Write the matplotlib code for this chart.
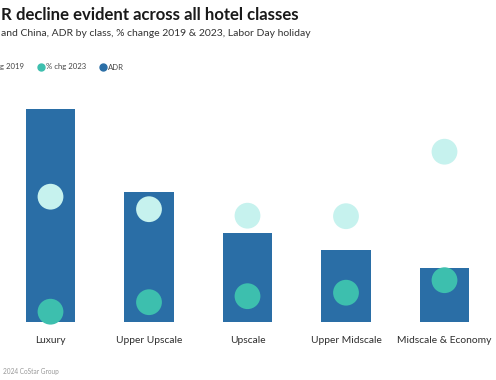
import matplotlib
matplotlib.use("Agg")
import matplotlib.pyplot as plt
from matplotlib.lines import Line2D

plt.rcParams['font.family'] = ['Lato', 'DejaVu Sans']

categories = ["Luxury", "Upper Upscale", "Upscale", "Upper Midscale", "Midscale & Economy"]
adr = [1065, 647, 442, 357, 268]
chg_2019 = [-5.0, -7.5, -8.8, -8.9, 4.0]
chg_2023 = [-28.0, -26.1, -24.9, -24.2, -21.7]

BAR = "#2a6ea6"
LIGHT = "#c6f2ee"
TEAL = "#3dbfae"

W, H = 496, 380
fig = plt.figure(figsize=(W / 100, H / 100), dpi=100)

# axes spanning pixels: x 1.25..493.75, y 90..321.7
ax = fig.add_axes([1.25 / W, (H - 321.7) / H, 492.5 / W, 231.7 / H])
ax.set_xlim(-0.5, 4.5)
ax.set_ylim(0, 231.7 * 5)
x = list(range(len(categories)))
ax.bar(x, adr, width=0.5, color=BAR, zorder=1)

ax2 = ax.twinx()
ax2.set_ylim(-30, -30 + 231.7 * 0.2)
ax2.scatter(x, chg_2019, s=345, color=LIGHT, edgecolors='none', zorder=3, clip_on=False)
ax2.scatter(x, chg_2023, s=345, color=TEAL, edgecolors='none', zorder=3, clip_on=False)

for a in (ax, ax2):
    for s in a.spines.values():
        s.set_visible(False)
    a.set_yticks([])
ax.set_xticks(x)
ax.set_xticklabels(categories, fontsize=7.4, color="#2e2e2e")
ax.tick_params(axis='x', length=0, pad=10)

fig.text(1 / W, 1 - 15 / H, "R decline evident across all hotel classes", fontsize=12.1,
         fontweight='bold', color="#1a1a1a", va='center', ha='left')
fig.text(1 / W, 1 - 33 / H, "and China, ADR by class, % change 2019 & 2023, Labor Day holiday",
         fontsize=7.5, color="#333333", va='center', ha='left')

# legend
ly = 1 - 67 / H
fig.text(0 / W, ly, "g 2019", fontsize=5.6, color="#444444", va='center', ha='left')
fig.add_artist(Line2D([40.7 / W], [ly], marker='o', markersize=5, color=TEAL, linestyle='none'))
fig.text(45.7 / W, ly, "% chg 2023", fontsize=5.6, color="#444444", va='center', ha='left')
fig.add_artist(Line2D([103 / W], [ly], marker='o', markersize=5, color=BAR, linestyle='none'))
fig.text(108 / W, ly, "ADR", fontsize=5.6, color="#444444", va='center', ha='left')

fig.text(3 / W, 1 - 371.5 / H, "2024 CoStar Group", fontsize=4.7, color="#999999",
         va='center', ha='left')

fig.savefig("out.png", dpi=100)
